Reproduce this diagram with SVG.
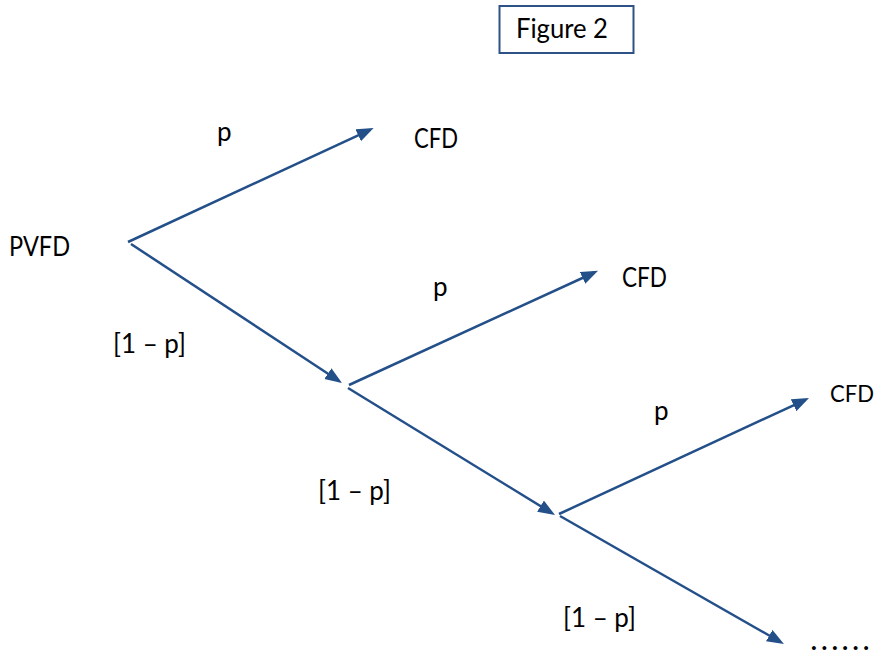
<svg xmlns="http://www.w3.org/2000/svg" width="878" height="654" viewBox="0 0 878 654">
<defs>
<style>
.t{font-family:Lato,"Liberation Sans",sans-serif;font-size:26px;fill:#000}
.c{fill:none;stroke:#24508A;stroke-width:2.5}
</style>
<marker id="ah" markerUnits="userSpaceOnUse" markerWidth="18" markerHeight="14" refX="13" refY="6.5" orient="auto">
<path d="M0,0 L17,6.5 L0,13 z" fill="#24508A"/>
</marker>
</defs>
<rect width="878" height="654" fill="#fff"/>
<g id="title">
<rect x="499.5" y="6" width="134" height="47" fill="none" stroke="#2E5286" stroke-width="2"/>
<text class="t" x="516" y="37.5" textLength="92" lengthAdjust="spacingAndGlyphs">Figure 2</text>
</g>
<g id="connectors">
<line class="c" x1="128" y1="242" x2="370" y2="129.8" marker-end="url(#ah)"/>
<line class="c" x1="131" y1="244" x2="338.7" y2="380.8" marker-end="url(#ah)"/>
<line class="c" x1="349" y1="385" x2="594.4" y2="272.5" marker-end="url(#ah)"/>
<line class="c" x1="348" y1="388" x2="551.6" y2="512.9" marker-end="url(#ah)"/>
<line class="c" x1="559" y1="514" x2="805.4" y2="399.8" marker-end="url(#ah)"/>
<line class="c" x1="560" y1="516" x2="780.5" y2="642" marker-end="url(#ah)"/>
</g>
<g id="pvfd"><text class="t" x="9" y="256" textLength="61" lengthAdjust="spacingAndGlyphs">PVFD</text></g>
<g id="cfd1"><text class="t" x="414" y="148" textLength="44" lengthAdjust="spacingAndGlyphs">CFD</text></g>
<g id="cfd2"><text class="t" x="622" y="287" textLength="45" lengthAdjust="spacingAndGlyphs">CFD</text></g>
<g id="cfd3"><text class="t" x="830" y="402" style="font-size:24px" textLength="44" lengthAdjust="spacingAndGlyphs">CFD</text></g>
<g id="p1"><text class="t" x="217" y="141">p</text></g>
<g id="p2"><text class="t" x="433" y="296">p</text></g>
<g id="p3"><text class="t" x="654" y="420">p</text></g>
<g id="q1"><text class="t" x="113" y="353" textLength="73" lengthAdjust="spacingAndGlyphs">[1 – p]</text></g>
<g id="q2"><text class="t" x="318" y="500" textLength="73" lengthAdjust="spacingAndGlyphs">[1 – p]</text></g>
<g id="q3"><text class="t" x="563" y="627" textLength="73" lengthAdjust="spacingAndGlyphs">[1 – p]</text></g>
<g id="dots"><text class="t" x="811" y="650" style="font-size:24px;font-weight:900" textLength="58" lengthAdjust="spacing">......</text></g>
</svg>
